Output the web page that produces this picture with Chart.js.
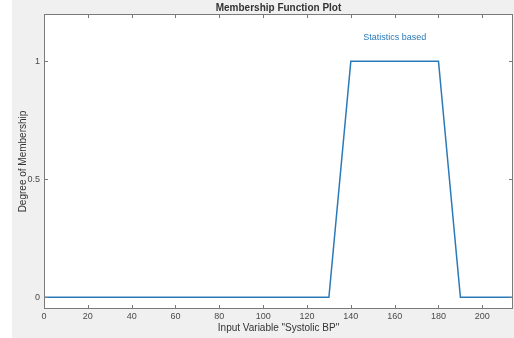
<!DOCTYPE html>
<html>
<head>
<meta charset="utf-8">
<script src="https://cdn.jsdelivr.net/npm/chart.js@4"></script>
<style>
  html, body { margin: 0; padding: 0; background: #f0f0f0; overflow: hidden; }
  #wrap { width: 514px; height: 338px; position: relative; }
</style>
</head>
<body>
<div id="wrap"><canvas id="mfPlot" width="514" height="338"></canvas></div>
<script>
// ── Datos ──────────────────────────────────────────────────────────────────
var bpValues     = [0, 130, 140, 180, 190, 214];
var membership   = [0, 0, 1, 1, 0, 0];
var xTickValues  = [0, 20, 40, 60, 80, 100, 120, 140, 160, 180, 200];
var yTickValues  = [0, 0.5, 1];
var mfLabel      = 'Statistics based';
var mfLabelPos   = [160, 1.1];

var lineColor = '#2a7ab8';
var axisColor = '#7a7a7a';
var textColor = '#4a4a4a';

// ── Caja, ticks interiores y etiqueta ─────────────────────────────────────
var boxPlugin = {
    id: 'matlabBox',
    beforeDraw: function (chart) {
        var c = chart.ctx, a = chart.chartArea;
        c.save();
        c.fillStyle = '#ffffff';
        c.fillRect(0, 0, 12, chart.height);
        c.fillRect(a.left, a.top, a.right - a.left, a.bottom - a.top);
        c.restore();
    },
    afterDraw: function (chart) {
        var c = chart.ctx, a = chart.chartArea;
        var xs = chart.scales.x, ys = chart.scales.y;
        c.save();
        c.strokeStyle = axisColor;
        c.lineWidth = 1;
        c.strokeRect(a.left + 0.5, a.top + 0.5, a.right - a.left - 1, a.bottom - a.top - 1);
        c.beginPath();
        xTickValues.forEach(function (v) {
            var px = Math.round(xs.getPixelForValue(v)) + 0.5;
            c.moveTo(px, a.bottom); c.lineTo(px, a.bottom - 4);
            c.moveTo(px, a.top);    c.lineTo(px, a.top + 4);
        });
        yTickValues.forEach(function (v) {
            var py = Math.round(ys.getPixelForValue(v)) + 0.5;
            c.moveTo(a.left, py);  c.lineTo(a.left + 4, py);
            c.moveTo(a.right, py); c.lineTo(a.right - 4, py);
        });
        c.stroke();
        c.fillStyle = lineColor;
        c.font = '9px "Liberation Sans", Arial, sans-serif';
        c.textAlign = 'center';
        c.textBaseline = 'middle';
        c.fillText(mfLabel, xs.getPixelForValue(mfLabelPos[0]), ys.getPixelForValue(mfLabelPos[1]));
        c.restore();
    }
};

new Chart(document.getElementById('mfPlot').getContext('2d'), {
    type: 'line',
    data: {
        datasets: [{
            data: bpValues.map(function (x, i) { return { x: x, y: membership[i] }; }),
            borderColor: lineColor,
            borderWidth: 1.5,
            pointRadius: 0,
            tension: 0,
            fill: false
        }]
    },
    options: {
        responsive: false,
        animation: false,
        devicePixelRatio: 1,
        layout: { padding: { top: 0, right: 1, left: 0, bottom: 0 } },
        plugins: {
            legend: { display: false },
            tooltip: { enabled: false },
            title: {
                display: true,
                fullSize: false,
                text: 'Membership Function Plot',
                color: '#333333',
                font: { family: '"Liberation Sans", Arial, sans-serif', size: 10, weight: 'bold' },
                padding: { top: 2, bottom: 0 }
            }
        },
        scales: {
            x: {
                type: 'linear',
                min: 0,
                max: 214,
                afterBuildTicks: function (s) { s.ticks = xTickValues.map(function (v) { return { value: v }; }); },
                afterFit: function (s) { s.height = 29; },
                grid: { display: false, drawTicks: false },
                border: { display: false },
                ticks: {
                    color: textColor,
                    padding: 2,
                    maxRotation: 0,
                    autoSkip: false,
                    font: { family: '"Liberation Sans", Arial, sans-serif', size: 9 }
                },
                title: {
                    display: true,
                    text: 'Input Variable "Systolic BP"',
                    color: '#333333',
                    padding: { top: 0, bottom: 4 },
                    font: { family: '"Liberation Sans", Arial, sans-serif', size: 10 }
                }
            },
            y: {
                min: -0.05,
                max: 1.2,
                afterBuildTicks: function (s) { s.ticks = yTickValues.map(function (v) { return { value: v }; }); },
                afterFit: function (s) { s.width = 44; },
                grid: { display: false, drawTicks: false },
                border: { display: false },
                ticks: {
                    color: textColor,
                    padding: 4,
                    font: { family: '"Liberation Sans", Arial, sans-serif', size: 9 },
                    callback: function (v) { return String(v); }
                },
                title: {
                    display: true,
                    text: 'Degree of Membership',
                    color: '#333333',
                    padding: { top: 17, bottom: 0 },
                    font: { family: '"Liberation Sans", Arial, sans-serif', size: 10 }
                }
            }
        }
    },
    plugins: [boxPlugin]
});
</script>
</body>
</html>
